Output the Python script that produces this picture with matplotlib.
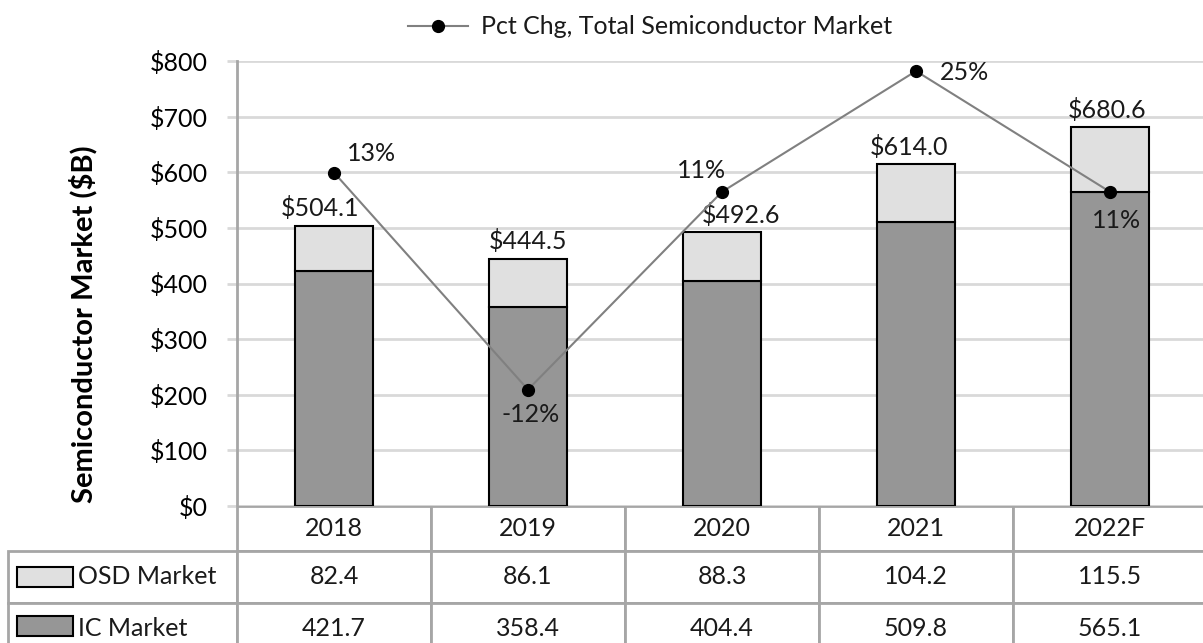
import matplotlib
matplotlib.use("Agg")
import matplotlib.pyplot as plt
from matplotlib.patches import Rectangle

years = ["2018", "2019", "2020", "2021", "2022F"]
osd_market = [82.4, 86.1, 88.3, 104.2, 115.5]
ic_market = [421.7, 358.4, 404.4, 509.8, 565.1]
totals = [504.1, 444.5, 492.6, 614.0, 680.6]
pct_chg = [13.0, -11.8, 10.8, 24.6, 10.8]
y_ticks = [0, 100, 200, 300, 400, 500, 600, 700, 800]

ic_color = "#969696"
osd_color = "#e0e0e0"
grid_color = "#d9d9d9"
table_color = "#a6a6a6"
fs = 18

plt.rcParams['font.family'] = ['Lato', 'DejaVu Sans']
plt.rcParams['text.color'] = '#1a1a1a'

W, H = 1203, 643
fig = plt.figure(figsize=(W / 100, H / 100), dpi=100)
ax = fig.add_axes([237 / W, 137 / H, 970 / W, 445 / H])

x = list(range(len(years)))
ax.bar(x, ic_market, width=0.4, color=ic_color, edgecolor='black', linewidth=1.5, zorder=3)
ax.bar(x, osd_market, bottom=ic_market, width=0.4, color=osd_color, edgecolor='black',
       linewidth=1.5, zorder=3)

# total labels above bars (small sideways nudges as in the original)
total_dx = [-10, 0, 14, -5, -2]
for i, t in enumerate(totals):
    ax.annotate("${:.1f}".format(t), (x[i], t), xytext=(total_dx[i], 12.5), textcoords='offset points',
                ha='center', va='center', fontsize=fs)

ax.set_xlim(-0.5, 4.5)
ax.set_ylim(0, 800)
ax.set_yticks(y_ticks)
ax.set_yticklabels(["${}".format(v) for v in y_ticks], fontsize=fs)
ax.set_xticks([])
ax.yaxis.grid(True, color=grid_color, linewidth=2)
ax.set_axisbelow(True)
for s in ['top', 'right', 'bottom']:
    ax.spines[s].set_visible(False)
ax.spines['left'].set_color(table_color)
ax.spines['left'].set_linewidth(2)
ax.tick_params(axis='y', length=7, width=2, color=grid_color, pad=14)
ax.set_ylabel("Semiconductor Market ($B)", fontsize=21, fontweight='bold')
ax.yaxis.set_label_coords(-140 / 970, 182 / 445)

# percent change on a hidden secondary axis
ax2 = ax.twinx()
ax2.set_ylim(-25.1, 25.75)
ax2.axis('off')
line, = ax2.plot(x, pct_chg, color='#808080', linewidth=1.5, marker='o', markersize=8.5,
                 markerfacecolor='black', markeredgecolor='black',
                 label="Pct Chg, Total Semiconductor Market")
pct_off = [(27, 14), (2, -18), (-15, 15), (35, -1), (5, -21)]
for i, p in enumerate(pct_chg):
    ax2.annotate("{:.0f}%".format(p), (x[i], p), xytext=pct_off[i], textcoords='offset points',
                 ha='center', va='center', fontsize=fs)

fig.legend(handles=[line], loc='center', bbox_to_anchor=(650 / W, 1 - 27 / H), frameon=False,
           fontsize=fs, handlelength=2.4, handletextpad=0.5, numpoints=1)

# data table under the chart
cell_text = [[""] + years,
             ["OSD Market"] + ["{:.1f}".format(v) for v in osd_market],
             ["IC Market"] + ["{:.1f}".format(v) for v in ic_market]]
lab_w = 229 / 970
tbl = ax.table(cellText=cell_text, cellLoc='center', colWidths=[lab_w] + [0.2] * 5,
               bbox=[-lab_w, -149 / 445, 1 + lab_w, 149 / 445])
tbl.auto_set_font_size(False)
tbl.set_fontsize(fs)
for (r, c), cell in tbl.get_celld().items():
    cell.set_edgecolor(table_color)
    cell.set_linewidth(2)
    cell.set_height(0.045 if r == 0 else 0.052)
    if r == 0 and c == 0:
        cell.visible_edges = ''
    if r > 0 and c == 0:
        cell._loc = 'left'
        cell.PAD = 70 / 229
        cell.get_text().set_horizontalalignment('left')

# legend swatches in the row label cells
sw = [(osd_color, 567), (ic_color, 616)]
for col, ytop in sw:
    ax.add_patch(Rectangle(((17 - 237) / 970, (506 - ytop - 20) / 445), 56 / 970, 20 / 445,
                           transform=ax.transAxes, facecolor=col, edgecolor='black',
                           linewidth=1.5, clip_on=False, zorder=10))

fig.savefig("out.png", dpi=100)
